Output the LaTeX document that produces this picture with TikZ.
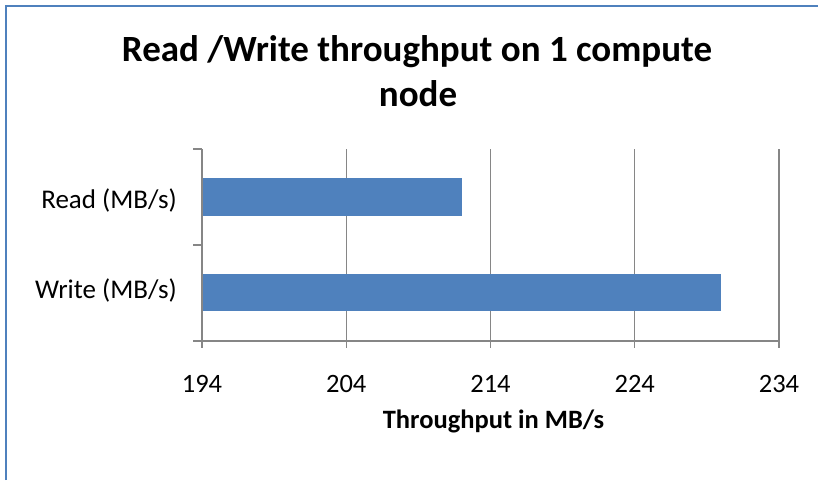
\documentclass[tikz,border=0pt]{standalone}
\usepackage{fontspec}
\setmainfont{Carlito}
\definecolor{barblue}{RGB}{79,129,189}
\definecolor{gridgray}{RGB}{134,134,134}
\begin{document}
\begin{tikzpicture}[x=1pt,y=-1pt,
  gridline/.style={draw=gridgray,line width=1.4pt},
  axisline/.style={draw=gridgray,line width=1.6pt},
  barfill/.style={fill=barblue},
  lbl/.style={inner sep=0pt,font=\fontsize{27}{32}\selectfont},
  ticklbl/.style={inner sep=0pt,font=\fontsize{26.5}{31}\selectfont},
  ttl/.style={inner sep=0pt,font=\fontsize{37}{44}\selectfont\bfseries},
  axttl/.style={inner sep=0pt,font=\fontsize{26.5}{31}\selectfont\bfseries}]
\useasboundingbox (0,0) rectangle (818,480);
\fill[white] (0,0) rectangle (818,480);
% frame
\draw[barblue,line width=2pt] (5.5,480) -- (5.5,5.5) -- (818,5.5);
% title
\node[ttl,anchor=base] (title1) at (417,61) {Read /Write throughput on 1 compute};
\node[ttl,anchor=base] (title2) at (418,106) {node};
% gridlines with ticks
\foreach \gx in {346.25,490.5,634.75,779} {
  \draw[gridline] (\gx,149) -- (\gx,348);
}
% bars
\path[barfill] (202,178.3) rectangle (461.7,216);
\path[barfill] (202,273.7) rectangle (721.3,311);
% axes
\draw[axisline] (202,149) -- (202,348);
\draw[axisline] (193,341) -- (779,341);
\draw[axisline] (193,149) -- (202,149);
\draw[axisline] (193,245) -- (202,245);
% category labels
\node[lbl,anchor=base east] (catRead) at (177,208.3) {Read (MB/s)};
\node[lbl,anchor=base east] (catWrite) at (177,298.3) {Write (MB/s)};
% tick labels
\node[ticklbl,anchor=base] (t194) at (202,392) {194};
\node[ticklbl,anchor=base] (t204) at (346.25,392) {204};
\node[ticklbl,anchor=base] (t214) at (490.5,392) {214};
\node[ticklbl,anchor=base] (t224) at (634.75,392) {224};
\node[ticklbl,anchor=base] (t234) at (779,392) {234};
% axis title
\node[axttl,anchor=base] (xtitle) at (493.5,428) {Throughput in MB/s};
\end{tikzpicture}
\end{document}
